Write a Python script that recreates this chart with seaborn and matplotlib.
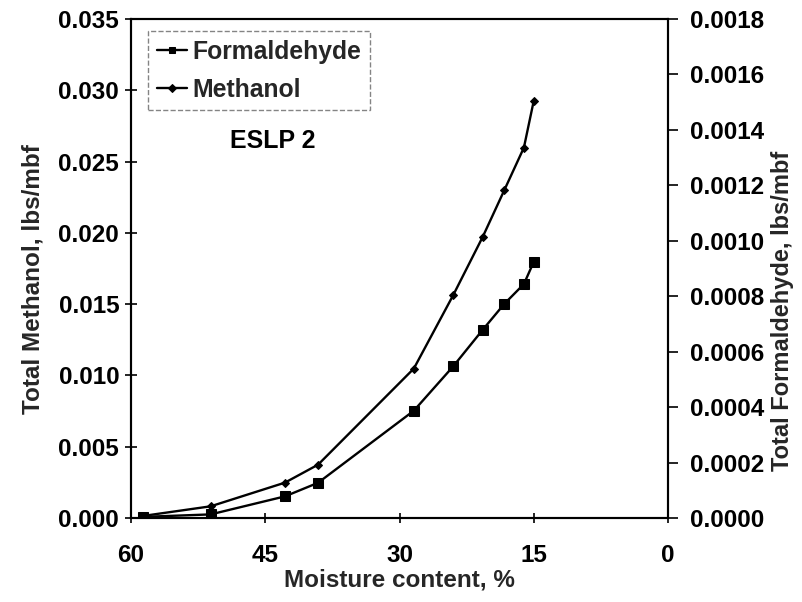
import matplotlib
matplotlib.use("Agg")
import matplotlib.pyplot as plt
import seaborn as sns
import pandas as pd
from matplotlib.ticker import FormatStrFormatter, MultipleLocator

sns.set_theme(style="white")
plt.rcParams['font.family'] = ['Liberation Sans', 'DejaVu Sans']
plt.rcParams['font.weight'] = 'bold'

moisture = [58.7, 51.1, 42.8, 39.1, 28.4, 24.0, 20.7, 18.3, 16.1, 15.0]
methanol = [0.00014, 0.00082, 0.00248, 0.00374, 0.01048, 0.01563, 0.01972, 0.02298, 0.02598, 0.02926]
formaldehyde = [0.000004, 0.000013, 0.000078, 0.000127, 0.000387, 0.000547, 0.000679, 0.000772, 0.000844, 0.000924]
x_ticks = [60, 45, 30, 15, 0]

df = pd.DataFrame({"moisture": moisture, "methanol": methanol, "formaldehyde": formaldehyde})

fig = plt.figure(figsize=(8.02, 6.02), dpi=100)
ax = fig.add_axes([131 / 802, (602 - 518) / 602, 537 / 802, 499 / 602])
ax2 = ax.twinx()

sns.lineplot(data=df, x="moisture", y="formaldehyde", ax=ax2, color="black", marker="s",
             markersize=7, linewidth=1.7, markeredgecolor="black", label="Formaldehyde", legend=False)
sns.lineplot(data=df, x="moisture", y="methanol", ax=ax, color="black", marker="D",
             markersize=4.5, linewidth=1.7, markeredgecolor="black", label="Methanol", legend=False)

ax.set_xlim(60, 0)
ax.set_xticks(x_ticks)
ax.set_ylim(0, 0.035)
ax.yaxis.set_major_locator(MultipleLocator(0.005))
ax.yaxis.set_major_formatter(FormatStrFormatter('%.3f'))
ax2.set_ylim(0, 0.0018)
ax2.yaxis.set_major_locator(MultipleLocator(0.0002))
ax2.yaxis.set_major_formatter(FormatStrFormatter('%.4f'))

for sp in list(ax.spines.values()) + list(ax2.spines.values()):
    sp.set_color("black")
    sp.set_linewidth(1.5)

ax.tick_params(axis='y', direction='inout', length=9, width=1.2, colors='black', labelsize=17.5, pad=4, left=True)
ax.tick_params(axis='x', direction='inout', length=7, width=1.2, colors='black', labelsize=17.5, pad=15, bottom=True)
ax2.tick_params(axis='y', direction='out', length=7, width=1.2, colors='black', labelsize=17.5, pad=9, right=True)
for lab in ax.get_xticklabels() + ax.get_yticklabels() + ax2.get_yticklabels():
    lab.set_fontweight('bold')

ax.set_xlabel("Moisture content, %", fontsize=17.5, fontweight='bold', labelpad=1)
ax.set_ylabel("Total Methanol, lbs/mbf", fontsize=17.5, fontweight='bold', labelpad=10)
ax2.set_ylabel("Total Formaldehyde, lbs/mbf", fontsize=17, fontweight='bold', labelpad=5)
ax.yaxis.label.set_y(0.479)
ax2.yaxis.label.set_y(0.415)

h2, l2 = ax2.get_legend_handles_labels()
h1, l1 = ax.get_legend_handles_labels()
leg = ax.legend(h2 + h1, l2 + l1, loc='upper left', bbox_to_anchor=(0.032, 0.975),
                prop={'size': 17.8, 'weight': 'bold'}, handlelength=1.2, handletextpad=0.25,
                frameon=True, fancybox=False, borderpad=0.35, labelspacing=0.55, borderaxespad=0)
leg.get_frame().set_edgecolor('#666666')
leg.get_frame().set_linestyle('--')
leg.get_frame().set_linewidth(1.0)
leg.set_zorder(5)
for lh in leg.get_lines():
    lh.set_markersize(4.5)

ax.text(0.264, 0.755, "ESLP 2", transform=ax.transAxes, ha='center', va='center',
        fontsize=18, fontweight='bold', color='black')

fig.savefig("out.png", dpi=100)
